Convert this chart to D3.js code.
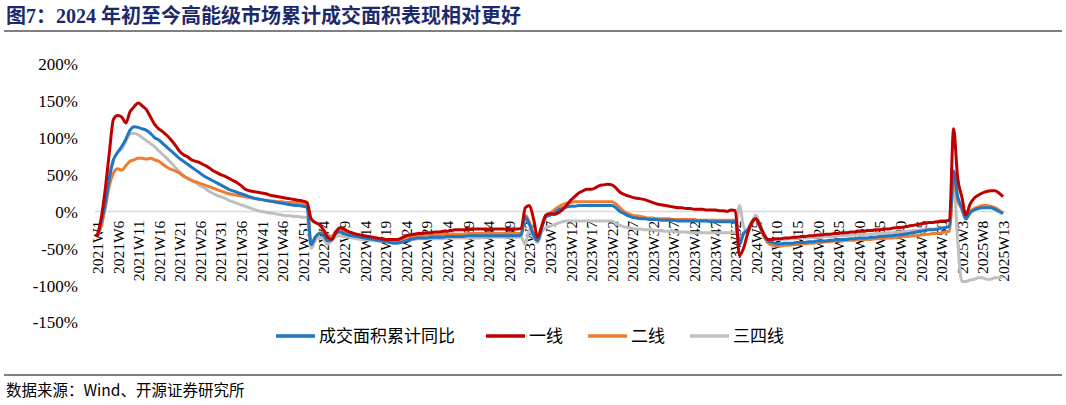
<!DOCTYPE html>
<html><head><meta charset="utf-8">
<script src="https://cdn.jsdelivr.net/npm/d3@7"></script>
<style>body{margin:0;background:#fff}svg{display:block}</style>
</head><body>
<svg id="c" width="1066" height="405"></svg>
<script>
const years=[2021,2022,2023,2024,2025];
const weeksPerYear=[52,52,52,52,13];
const seriesNames=["成交面积累计同比","一线","二线","三四线"];
const seriesColors=["#1f77c4","#c00000","#ed7d31","#bfbfbf"];
const yTicks=[200,150,100,50,0,-50,-100,-150];

const total2021=[-35,-15,10,45,70,80,88,98,110,115,114,112,110,106,100,97,92,87,82,77,72,68,64,60,56,52,48,45,42,39,36,33,30,28,26,24,22,20,18,17,16,15,14,13,12,11,10,9,8,8,7,6];
const tier1_2021=[-35,-10,30,80,125,130,128,120,135,142,147,143,138,128,118,112,108,103,97,90,82,77,74,70,68,66,63,60,56,53,50,48,45,42,39,35,30,28,27,26,25,24,22,21,20,19,18,17,16,15,14,12];
const tier2_2021=[-35,-20,5,35,52,58,56,62,68,70,72,72,71,72,70,68,64,60,57,55,52,48,45,42,40,38,36,34,32,30,28,26,24,23,22,21,20,19,18,17,16,15,14,14,13,13,12,12,12,12,11,10];
const tier3_2021=[-35,-20,10,50,70,80,85,95,105,106,104,100,96,92,88,82,77,72,66,60,54,49,45,42,39,35,32,28,25,22,20,18,15,13,11,9,7,5,3,1,0,-1,-2,-3,-4,-5,-6,-6,-7,-7,-8,-8];

const total2022=[-45,-35,-30,-32,-40,-38,-30,-28,-30,-32,-33,-34,-35,-36,-37,-38,-39,-40,-41,-42,-43,-43,-42,-40,-38,-37,-36,-36,-36,-35,-35,-35,-35,-34,-34,-34,-34,-34,-33,-33,-33,-33,-33,-33,-33,-33,-33,-33,-33,-33,-33,-32];
const tier1_2022=[-10,-15,-18,-25,-35,-38,-28,-22,-24,-27,-29,-31,-32,-33,-34,-35,-36,-37,-38,-38,-38,-38,-36,-33,-32,-31,-30,-30,-29,-29,-28,-28,-27,-27,-26,-25,-25,-25,-24,-24,-24,-24,-24,-24,-24,-24,-24,-24,-24,-24,-24,-23];
const tier2_2022=[-45,-35,-30,-28,-32,-34,-27,-25,-28,-30,-31,-32,-33,-34,-35,-36,-37,-38,-39,-40,-40,-40,-38,-36,-35,-34,-33,-33,-32,-32,-32,-32,-31,-31,-31,-31,-31,-31,-30,-30,-30,-30,-30,-30,-30,-30,-30,-30,-30,-30,-30,-29];
const tier3_2022=[-50,-40,-35,-38,-45,-40,-34,-33,-34,-35,-36,-37,-38,-38,-39,-39,-40,-40,-41,-41,-41,-41,-40,-39,-38,-38,-37,-37,-37,-37,-37,-37,-37,-36,-36,-36,-36,-36,-36,-36,-36,-36,-35,-35,-35,-35,-35,-35,-35,-35,-35,-35];

const total2023=[-8,-18,-32,-40,-22,-8,-5,-2,2,4,6,7,7,8,8,8,8,8,8,8,8,8,5,0,-3,-6,-8,-9,-10,-10,-11,-11,-11,-12,-12,-12,-12,-13,-13,-13,-13,-13,-13,-13,-13,-14,-14,-14,-14,-14,-14,-14];
const tier1_2023=[5,8,-10,-35,-20,-5,-3,-4,-2,2,8,15,20,25,28,30,30,32,35,36,37,36,32,26,23,21,19,18,17,16,14,12,10,9,8,7,6,5,5,4,4,3,3,3,2,2,2,1,1,0,2,1];
const tier2_2023=[-5,-15,-30,-38,-20,-5,-2,2,6,9,11,12,13,13,13,13,13,13,13,13,13,13,10,5,0,-3,-5,-6,-7,-8,-9,-9,-10,-10,-10,-10,-11,-11,-11,-11,-11,-11,-12,-12,-12,-12,-12,-12,-12,-12,-12,-12];
const tier3_2023=[-45,-25,-35,-42,-28,-22,-20,-18,-16,-14,-13,-13,-13,-13,-13,-13,-13,-13,-13,-13,-13,-13,-16,-19,-21,-22,-23,-24,-24,-25,-25,-25,-26,-26,-27,-27,-27,-28,-28,-28,-29,-29,-29,-29,-29,-29,-29,-29,-29,-29,-29,-29];

const total2024=[-45,-30,-25,-15,-10,-20,-32,-40,-42,-44,-44,-43,-43,-43,-42,-42,-42,-41,-41,-40,-40,-40,-39,-39,-38,-38,-38,-37,-37,-36,-36,-36,-35,-35,-34,-34,-33,-33,-32,-32,-31,-30,-29,-28,-27,-26,-25,-25,-24,-23,-22,-20];
const tier1_2024=[-60,-50,-30,-15,-10,-20,-32,-38,-38,-37,-37,-36,-36,-35,-35,-34,-34,-33,-33,-32,-32,-31,-31,-30,-30,-29,-29,-28,-28,-27,-27,-26,-26,-25,-25,-24,-24,-23,-22,-22,-21,-20,-19,-18,-17,-16,-15,-15,-14,-13,-13,-12];
const tier2_2024=[-40,-30,-25,-15,-10,-22,-35,-43,-46,-47,-47,-46,-46,-45,-45,-44,-44,-43,-43,-42,-42,-41,-41,-40,-40,-40,-39,-39,-39,-38,-38,-38,-38,-37,-37,-37,-36,-36,-35,-35,-34,-34,-33,-33,-32,-31,-31,-30,-30,-29,-28,-27];
const tier3_2024=[8,-20,-28,-15,-5,-18,-30,-38,-38,-38,-38,-38,-37,-37,-37,-36,-36,-36,-35,-35,-35,-34,-34,-34,-33,-33,-33,-32,-32,-32,-31,-31,-31,-30,-30,-30,-29,-29,-28,-28,-27,-27,-26,-26,-25,-25,-24,-24,-23,-22,-21,-20];

const total2025=[55,20,5,-10,-2,2,4,5,5,5,3,0,-3];
const tier1_2025=[112,45,20,-5,10,18,22,25,27,28,28,25,20];
const tier2_2025=[40,15,3,-10,0,4,6,8,8,7,5,2,-2];
const tier3_2025=[42,-40,-95,-95,-93,-92,-90,-90,-92,-92,-90,-90,-88];

const totalVals=[].concat(total2021,total2022,total2023,total2024,total2025);
const tier1Vals=[].concat(tier1_2021,tier1_2022,tier1_2023,tier1_2024,tier1_2025);
const tier2Vals=[].concat(tier2_2021,tier2_2022,tier2_2023,tier2_2024,tier2_2025);
const tier3Vals=[].concat(tier3_2021,tier3_2022,tier3_2023,tier3_2024,tier3_2025);

const categories=[];
years.forEach((y,i)=>{for(let w=1;w<=weeksPerYear[i];w++)categories.push(y+"W"+w);});
const tickLabels=categories.filter((d,i)=>i%5===0);

const svg=d3.select("#c");
const serif="'Liberation Serif','Times New Roman','Noto Sans CJK SC',serif";
const cjk="'Noto Sans CJK SC',sans-serif";

svg.append("text").attr("x",6).attr("y",23).attr("font-family","'Liberation Serif','Noto Sans CJK SC',serif")
  .attr("font-weight","bold").attr("font-size",20).attr("fill","#1c2a6b").text("图7：2024 年初至今高能级市场累计成交面积表现相对更好");
svg.append("line").attr("x1",4).attr("x2",1062).attr("y1",31).attr("y2",31).attr("stroke","#000").attr("stroke-width",1);
svg.append("line").attr("x1",4).attr("x2",1062).attr("y1",375).attr("y2",375).attr("stroke","#000").attr("stroke-width",1);
svg.append("text").attr("x",6).attr("y",396).attr("font-family",cjk).attr("font-size",15.5).attr("fill","#000").text("数据来源：Wind、开源证券研究所");

const x=d3.scalePoint().domain(categories).range([97,1003]);
const y=d3.scaleLinear().domain([-150,200]).range([322,64]);

svg.append("line").attr("x1",95).attr("x2",1006).attr("y1",y(0)).attr("y2",y(0)).attr("stroke","#d9d9d9").attr("stroke-width",1.5);

const ya=svg.append("g").attr("transform","translate(81,0)")
  .call(d3.axisLeft(y).tickValues(yTicks).tickSize(0).tickFormat(d=>d+"%"));
ya.select(".domain").remove();
ya.selectAll("text").attr("font-family",serif).attr("font-size",17).attr("fill","#000").attr("dy","0.35em");

const xa=svg.append("g").attr("transform",`translate(0,${y(0)})`)
  .call(d3.axisBottom(x).tickValues(tickLabels).tickSize(0));
xa.select(".domain").remove();
xa.selectAll("text").attr("font-family",serif).attr("font-size",15.5).attr("fill","#000")
  .attr("text-anchor","end").attr("transform","rotate(-90)").attr("dx","-0.4em").attr("dy","0.35em").attr("y",0).attr("x",-3);

const data=[totalVals,tier1Vals,tier2Vals,tier3Vals];
const line=d3.line().x((d,i)=>x(categories[i])).y(d=>y(d)).curve(d3.curveMonotoneX);
const order=[3,2,0,1];
order.forEach(k=>{
  svg.append("path").attr("d",line(data[k])).attr("fill","none").attr("stroke",seriesColors[k]).attr("stroke-width",3).attr("stroke-linejoin","round");
});

const legX=[276,486,588,690];
seriesNames.forEach((n,i)=>{
  svg.append("line").attr("x1",legX[i]).attr("x2",legX[i]+39).attr("y1",336).attr("y2",336).attr("stroke",seriesColors[i]).attr("stroke-width",3.5);
  svg.append("text").attr("x",legX[i]+43).attr("y",342).attr("font-family",cjk).attr("font-size",17).attr("fill","#000").text(n);
});
</script>
</body></html>
